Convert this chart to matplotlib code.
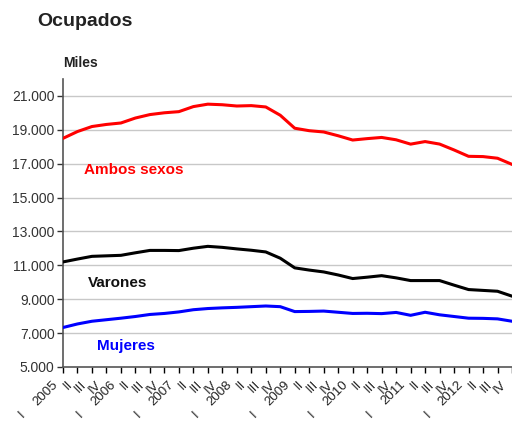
import numpy as np
import matplotlib
matplotlib.use("Agg")
import matplotlib.pyplot as plt

plt.rcParams['font.family'] = ['Liberation Sans', 'DejaVu Sans']

years = ['2005', '2006', '2007', '2008', '2009', '2010', '2011', '2012']
quarters = ['I', 'II', 'III', 'IV']

# miles de personas, trimestral 2005 I - 2012 IV
ambos = [18493, 18895, 19191, 19314, 19400, 19693, 19896, 20002,
         20069, 20367, 20511, 20477, 20402, 20425, 20346, 19857,
         19091, 18945, 18870, 18646, 18394, 18477, 18547, 18408,
         18152, 18303, 18156, 17808, 17433, 17417, 17320, 16957]
varones = [11200, 11370, 11530, 11560, 11590, 11740, 11880, 11880,
           11870, 12010, 12120, 12060, 11970, 11890, 11790, 11420,
           10850, 10720, 10610, 10430, 10220, 10300, 10390, 10260,
           10100, 10100, 10100, 9830, 9570, 9520, 9470, 9180]
mujeres = [7330, 7540, 7700, 7790, 7880, 7980, 8100, 8160,
           8250, 8380, 8450, 8490, 8520, 8560, 8600, 8560,
           8270, 8280, 8300, 8230, 8160, 8170, 8150, 8220,
           8050, 8230, 8080, 7980, 7880, 7870, 7840, 7700]

yticks = [5000, 7000, 9000, 11000, 13000, 15000, 17000, 19000, 21000]

x = np.arange(len(ambos))

fig = plt.figure(figsize=(5.12, 4.23), dpi=100)
ax = fig.add_axes([0.123, 0.1324, 0.877, 0.681])

for v in yticks[1:]:
    ax.axhline(v, color='#c8c8c8', lw=1.0, zorder=1)

ax.plot(x, ambos, color='#ff0000', lw=2.2, zorder=3)
ax.plot(x, varones, color='#000000', lw=2.2, zorder=3)
ax.plot(x, mujeres, color='#0000ff', lw=2.2, zorder=3)

ax.set_xlim(0, len(ambos) - 1)
ax.set_ylim(5000, 22000)

ax.set_yticks(yticks)
ax.set_yticklabels([f"{v:,}".replace(',', '.') for v in yticks])

labels = []
for y in years:
    for q in quarters:
        labels.append(y if q == 'I' else q)
ax.set_xticks(x)
ax.set_xticklabels([''] * len(x))

# etiquetas del eje x, giradas 45 grados
for i, lab in enumerate(labels):
    ax.annotate(lab, xy=(i, 5000), xytext=(-7, -16), textcoords='offset pixels',
                rotation=45, rotation_mode='anchor', ha='right', va='center',
                fontsize=9.5, color='#222222', annotation_clip=False)
    if lab in years:
        ax.annotate('I', xy=(i, 5000), xytext=(-41, -48), textcoords='offset pixels',
                    rotation=45, ha='center', va='center', fontsize=9.5,
                    color='#222222', annotation_clip=False)

ax.tick_params(axis='y', direction='out', length=4, width=1, labelsize=10,
               colors='#333333', pad=2)
ax.tick_params(axis='x', direction='out', length=4, width=1, pad=1)

for s in ['top', 'right']:
    ax.spines[s].set_visible(False)
for s in ['left', 'bottom']:
    ax.spines[s].set_color('#555555')
    ax.spines[s].set_linewidth(1.2)

ax.text(1.45, 16610, 'Ambos sexos', color='#ff0000', fontsize=11,
        fontweight='bold', va='center', ha='left')
ax.text(1.73, 9960, 'Varones', color='#111111', fontsize=11,
        fontweight='bold', va='center', ha='left')
ax.text(2.35, 6260, 'Mujeres', color='#0000ff', fontsize=11,
        fontweight='bold', va='center', ha='left')

fig.text(0.072, 0.950, 'Ocupados', fontsize=14, fontweight='bold',
         color='#222222', va='center', ha='left')
fig.text(0.123, 0.851, 'Miles', fontsize=10, fontweight='bold',
         color='#222222', va='center', ha='left')

fig.savefig('out.png', dpi=100)
